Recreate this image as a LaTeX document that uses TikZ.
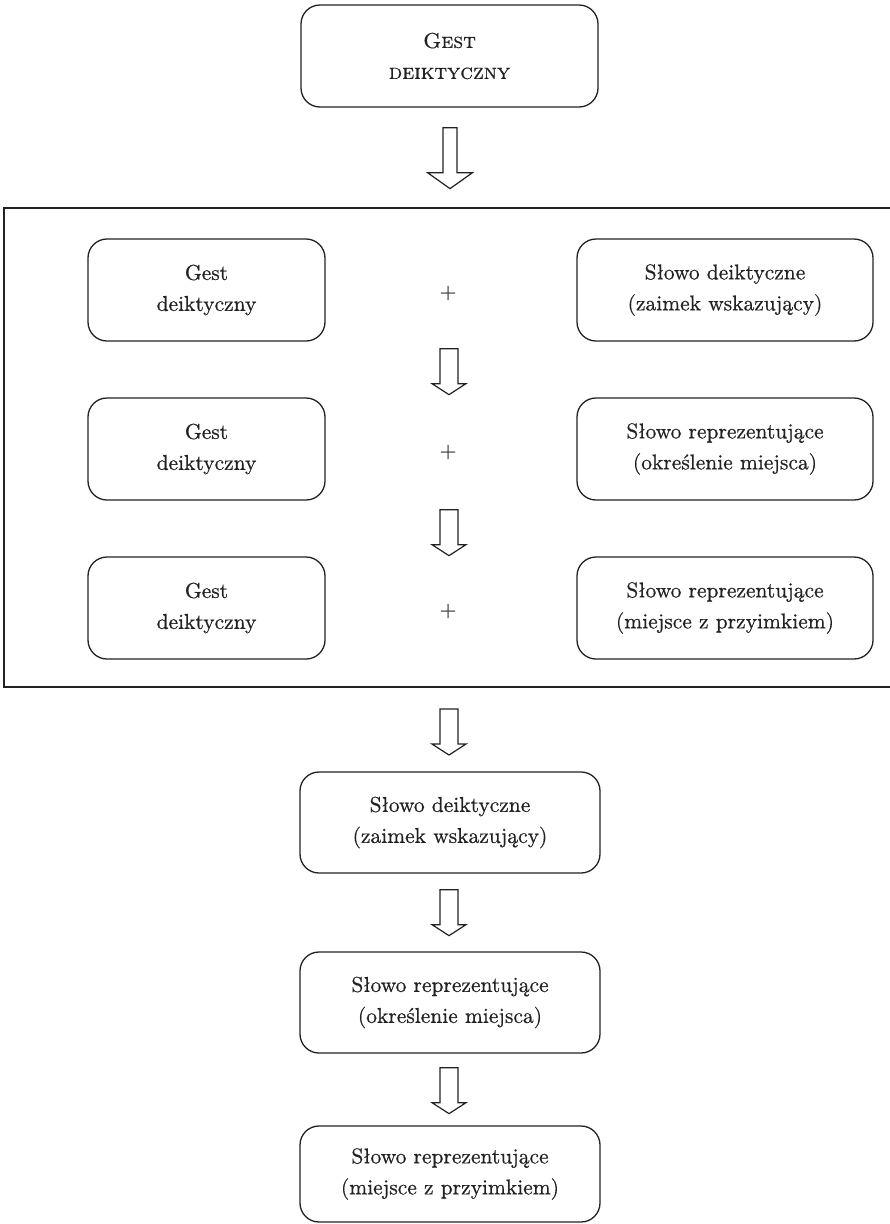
\documentclass[tikz,border=0pt]{standalone}
\usepackage{fontspec}
\setmainfont{lmroman10}[Extension=.otf, UprightFont=*-regular, BoldFont=*-bold, ItalicFont=*-italic, SmallCapsFont=lmromancaps10-regular, FakeBold=0.6]
\usetikzlibrary{calc}
\definecolor{ink}{HTML}{222222}
\definecolor{txt}{HTML}{222222}
\tikzset{
  rbox/.style={draw=ink, line width=1.3pt, rounded corners=19pt, minimum height=102pt,
    inner sep=0pt, align=center, text=txt, font=\fontsize{21.5}{31}\selectfont},
  plainbox/.style={draw=ink, line width=1.5pt},
  barrow/.style={draw=ink, line width=1.2pt, line join=miter},
  plus/.style={text=txt, font=\fontsize{21.5}{31}\selectfont, inner sep=0pt}
}
\newcommand\bigarr[1]{%
  \draw[barrow] (#1) ++(-7,0) -- ++(0,45) -- ++(-15.5,0) -- ++(22.5,16) -- ++(22.5,-16) -- ++(-15.5,0) -- ++(0,-45) -- cycle;}
\newcommand\smallarr[1]{%
  \draw[barrow] (#1) ++(-9,0) -- ++(0,35) -- ++(-8,0) -- ++(17,11) -- ++(17,-11) -- ++(-8,0) -- ++(0,-35) -- cycle;}
\begin{document}
\begin{tikzpicture}[x=1pt,y=-1pt]
\useasboundingbox (0,0) rectangle (890,1224);
% top box
\node[rbox, minimum width=297pt] (top) at (449.5,56) {\scshape Gest\\\scshape deiktyczny};
% frame
\coordinate (frameTop) at (450,208);
\coordinate (frameBot) at (450,687);
\draw[plainbox] (895,208) -- (4,208) -- (4,687) -- (895,687);
% arrow top -> frame
\coordinate (a0) at ($(top.south)+(0.5,20)$);
\bigarr{a0}
% rows
\foreach \i/\y/\r in {1/290/{Słowo deiktyczne\\(zaimek wskazujący)},
                      2/449/{Słowo reprezentujące\\(określenie miejsca)},
                      3/608/{Słowo reprezentujące\\(miejsce z przyimkiem)}}{
  \node[rbox, minimum width=237pt] (L\i) at (206.5,\y) {Gest\\deiktyczny};
  \node[rbox, minimum width=296pt] (R\i) at (725,\y) {\r};
  \node[plus] (P\i) at (448,\y+3) {+};
}
\coordinate (a1) at ($(L1.south -| P1)+(1,7)$);
\smallarr{a1}
\coordinate (a2) at ($(L2.south -| P2)+(1,9)$);
\smallarr{a2}
% lower chain
\node[rbox, minimum width=300pt, minimum height=101pt] (B4) at (450,822.5) {Słowo deiktyczne\\(zaimek wskazujący)};
\node[rbox, minimum width=300pt, minimum height=101pt] (B5) at (450,1002.5) {Słowo reprezentujące\\(określenie miejsca)};
\node[rbox, minimum width=300pt, minimum height=96pt] (B6) at (450,1174) {Słowo reprezentujące\\(miejsce z przyimkiem)};
\coordinate (a3) at ($(frameBot)+(-1,22)$);
\smallarr{a3}
\coordinate (a4) at ($(B4.south)+(-1,16)$);
\smallarr{a4}
\coordinate (a5) at ($(B5.south)+(-1,14)$);
\smallarr{a5}
\end{tikzpicture}
\end{document}
